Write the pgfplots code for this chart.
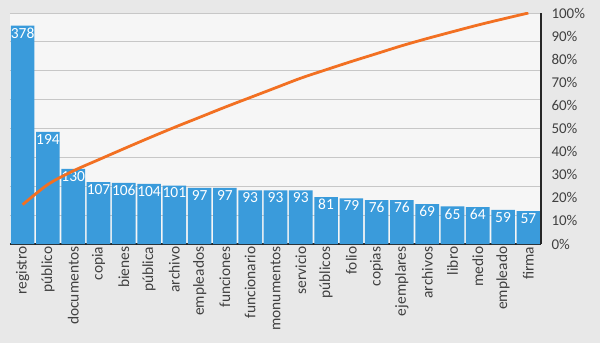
\documentclass[border=0pt]{standalone}
\usepackage{pgfplots}
\pgfplotsset{compat=1.18}
\usepackage{fontspec}
\setmainfont{Carlito}
\definecolor{barblue}{RGB}{58,155,219}
\definecolor{lineorange}{RGB}{242,112,34}
\definecolor{bgout}{RGB}{232,232,232}
\definecolor{bgin}{RGB}{246,246,246}
\definecolor{txt}{RGB}{64,64,64}
\begin{document}
\begin{tikzpicture}
\fill[bgout] (-10bp,-99bp) rectangle (590bp,244bp);
\fill[bgin] (0,0) rectangle (531bp,231bp);
\begin{axis}[
  at={(0,0)}, anchor=south west,
  scale only axis, width=531bp, height=231bp,
  /pgf/number format/assume math mode=true,
  xmin=-0.5, xmax=20.5, ymin=0, ymax=400,
  axis x line*=bottom, axis y line*=left,
  y axis line style={draw=none},
  x axis line style={draw=black!85, line width=1.6bp, -},
  ytick={50,100,...,400}, yticklabels={},
  ymajorgrids, grid style={draw=black!22, line width=0.8bp},
  major tick length=0,
  xtick={0,...,20},
  xticklabels={registro,público,documentos,copia,bienes,pública,archivo,empleados,funciones,funcionario,monumentos,servicio,públicos,folio,copias,ejemplares,archivos,libro,medio,empleado,firma},
  xticklabel style={rotate=90, anchor=east, font=\fontsize{15.5}{16}\selectfont, text=txt, inner sep=2.5pt},
  ybar, bar width=23.6bp, bar shift=0pt,
  nodes near coords,
  every node near coord/.append style={anchor=north, text=white, font=\fontsize{15.5}{16}\selectfont, inner sep=2pt, yshift=0pt},
]
\addplot[fill=barblue, draw=none] coordinates {
(0,378) (1,194) (2,130) (3,107) (4,106) (5,104) (6,101) (7,97) (8,97) (9,93) (10,93)
(11,93) (12,81) (13,79) (14,76) (15,76) (16,69) (17,65) (18,64) (19,59) (20,57)};
\end{axis}
\begin{axis}[
  at={(0,0)}, anchor=south west,
  scale only axis, width=531bp, height=231bp,
  xmin=-0.5, xmax=20.5, ymin=0, ymax=100,
  axis x line=none, axis y line*=right,
  y axis line style={draw=black!85, line width=1.4bp, -},
  major tick length=0,
  ytick={0,10,...,100},
  yticklabels={0\%,10\%,20\%,30\%,40\%,50\%,60\%,70\%,80\%,90\%,100\%},
  yticklabel style={anchor=west, xshift=7bp, font=\fontsize{15}{16}\selectfont, text=txt},
]
\addplot[lineorange, line width=2.8bp, smooth, no marks] coordinates {
(0,17.03) (1,25.78) (2,31.64) (3,36.46) (4,41.23) (5,45.92) (6,50.47) (7,54.84)
(8,59.22) (9,63.41) (10,67.60) (11,71.79) (12,75.44) (13,79.00) (14,82.42)
(15,85.85) (16,88.96) (17,91.89) (18,94.77) (19,97.43) (20,100)};
\end{axis}
\end{tikzpicture}
\end{document}
